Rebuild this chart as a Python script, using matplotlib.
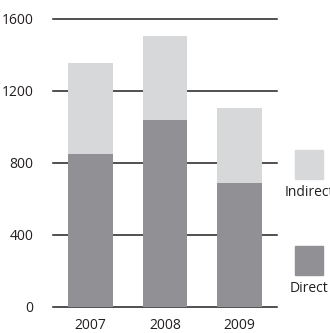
import matplotlib.pyplot as plt
from matplotlib.patches import Rectangle

# Data
years = ["2007", "2008", "2009"]
direct = [850, 1040, 690]
indirect = [505, 465, 415]
yticks = [0, 400, 800, 1200, 1600]

c_direct = "#919094"
c_indirect = "#d7d8da"

plt.rcParams["font.family"] = ["Open Sans", "DejaVu Sans"]

fig = plt.figure(figsize=(3.3, 3.33), dpi=100)
ax = fig.add_axes([53 / 330, 26 / 333, 224 / 330, 288 / 333])

x = range(len(years))
ax.bar(x, direct, width=0.6, color=c_direct, zorder=2)
ax.bar(x, indirect, width=0.6, bottom=direct, color=c_indirect, zorder=2)

ax.set_xlim(-0.5, 2.5)
ax.set_ylim(0, 1600)
ax.set_yticks(yticks)
ax.set_xticks(list(x))
ax.set_xticklabels(years)
for yv in yticks:
    ax.axhline(yv, color="#231f20", lw=1.1, zorder=1, clip_on=False)

for s in ax.spines.values():
    s.set_visible(False)
ax.tick_params(axis="both", length=0, labelsize=10, colors="#231f20")
ax.tick_params(axis="y", pad=14)
ax.tick_params(axis="x", pad=8)

# legend: swatch above label
legend = [("Indirect", c_indirect, 150), ("Direct", c_direct, 246)]
for name, col, top in legend:
    fig.add_artist(Rectangle((295 / 330, 1 - (top + 29) / 333), 28 / 330, 29 / 333,
                             transform=fig.transFigure, color=col))
    fig.text(309 / 330, 1 - (top + 43) / 333, name, ha="center", va="center",
             fontsize=10, color="#231f20")

fig.savefig("out.png", dpi=100)
